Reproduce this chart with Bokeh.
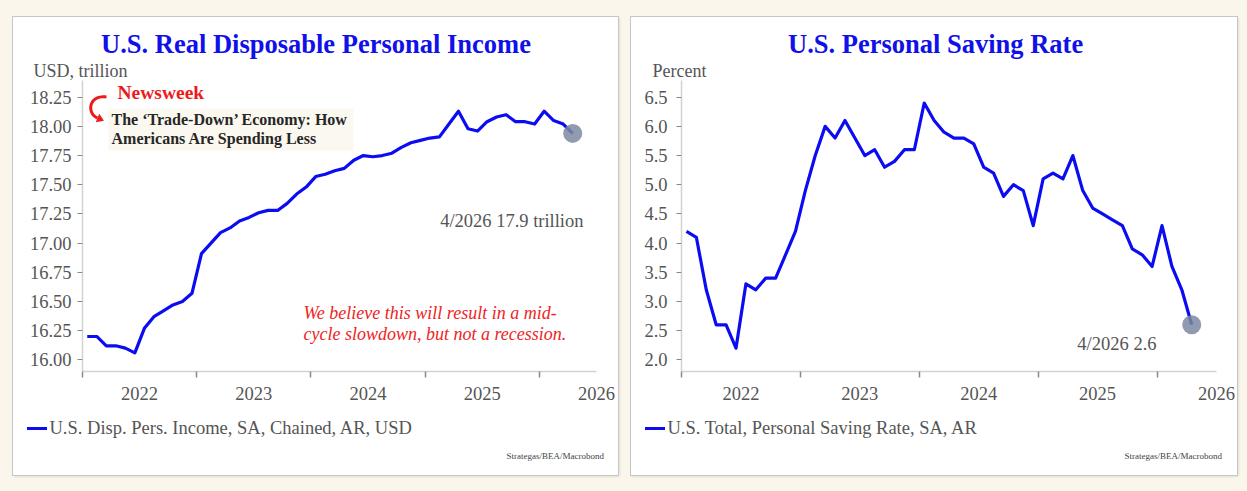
import numpy as np
from bokeh.plotting import figure
from bokeh.layouts import row
from bokeh.models import (FixedTicker, Label, BoxAnnotation, PolyAnnotation, Title,
                          PrintfTickFormatter, GlobalInlineStyleSheet)
from bokeh.embed import file_html
from bokeh.resources import INLINE

# ---------------- data ----------------
start_year = 2022  # first observation: Jan 2022, monthly through Apr 2026
income = [16.20, 16.20, 16.12, 16.12, 16.10, 16.06, 16.27, 16.37, 16.42, 16.47,
          16.50, 16.57, 16.91, 17.00, 17.09, 17.13, 17.19, 17.22, 17.26, 17.28,
          17.28, 17.34, 17.42, 17.48, 17.57, 17.59, 17.62, 17.64, 17.71, 17.75,
          17.74, 17.75, 17.77, 17.82, 17.86, 17.88, 17.90, 17.91, 18.02, 18.13,
          17.98, 17.96, 18.04, 18.08, 18.10, 18.04, 18.04, 18.02, 18.13, 18.05,
          18.02, 17.94]
saving = [4.2, 4.1, 3.2, 2.6, 2.6, 2.2, 3.3, 3.2, 3.4, 3.4,
          3.8, 4.2, 4.9, 5.5, 6.0, 5.8, 6.1, 5.8, 5.5, 5.6,
          5.3, 5.4, 5.6, 5.6, 6.4, 6.1, 5.9, 5.8, 5.8, 5.7,
          5.3, 5.2, 4.8, 5.0, 4.9, 4.3, 5.1, 5.2, 5.1, 5.5,
          4.9, 4.6, 4.5, 4.4, 4.3, 3.9, 3.8, 3.6, 4.3, 3.6,
          3.2, 2.6]
year_ticks = [2022, 2023, 2024, 2025, 2026]
year_labels = ["2022", "2023", "2024", "2025", "2026"]
income_ticks = [16.00, 16.25, 16.50, 16.75, 17.00, 17.25, 17.50, 17.75, 18.00, 18.25]
saving_ticks = [2.0, 2.5, 3.0, 3.5, 4.0, 4.5, 5.0, 5.5, 6.0, 6.5]

# ---------------- style / layout constants ----------------
SERIF = "Liberation Serif"
BLUE = "#0c0cf2"
TITLE_BLUE = "#1010e8"
GREY = "#555555"
RED = "#ee2424"
CREAM = "#faf6eb"

PANEL_TOP = 17            # page y of the panels' top edge
PANEL_H = 458
FRAME_TOP = 63            # frame top, relative to panel (page y 80)
FRAME_BOTTOM_PAGE = 371   # page y of the x axis
FRAME_BOTTOM = PANEL_TOP + PANEL_H - FRAME_BOTTOM_PAGE


def mx(n):
    return [start_year + (i + 0.5) / 12.0 for i in range(n)]


def title(text, offset, size, color, style="normal", valign="bottom", standoff=0):
    return Title(text=text, align="left", offset=offset, standoff=standoff,
                 vertical_align=valign, text_font=SERIF, text_font_size=size,
                 text_color=color, text_font_style=style)


def make_panel(width, frame_left, border_left, border_right, y_range, ticks, fmt, values,
               standoff, title_text, title_x, unit, unit_x, legend_text, legend_x,
               source_x):
    p = figure(width=width, height=PANEL_H, x_range=(2022, 2026.5), y_range=y_range,
               output_backend="svg", toolbar_location=None, title=None,
               min_border_left=border_left, min_border_right=border_right,
               min_border_top=FRAME_TOP, min_border_bottom=FRAME_BOTTOM,
               background_fill_color="white", border_fill_color="white",
               border_fill_alpha=0, outline_line_color=None)
    p.grid.visible = False
    xa = p.xaxis[0]
    xa.ticker = FixedTicker(ticks=[y + 0.5 for y in year_ticks], minor_ticks=year_ticks)
    xa.major_label_overrides = {y + 0.5: lab for y, lab in zip(year_ticks, year_labels)}
    xa.major_tick_line_color = None
    xa.major_tick_out = 6
    xa.major_tick_in = 0
    xa.minor_tick_out = 6
    xa.minor_tick_in = 0
    xa.minor_tick_line_color = "#8a8a8a"
    xa.minor_tick_line_width = 1.5
    xa.axis_line_color = "#d2d2d2"
    xa.axis_line_width = 1.5
    xa.major_label_standoff = 9
    xa.major_label_text_font = SERIF
    xa.major_label_text_font_size = "18.5px"
    xa.major_label_text_color = GREY
    ya = p.yaxis[0]
    ya.ticker = FixedTicker(ticks=ticks)
    ya.formatter = PrintfTickFormatter(format=fmt)
    ya.major_tick_out = 5
    ya.major_tick_in = 0
    ya.minor_tick_line_color = None
    ya.major_tick_line_color = "#8a8a8a"
    ya.major_tick_line_width = 1.2
    ya.axis_line_color = "#d2d2d2"
    ya.axis_line_width = 1.5
    ya.major_label_standoff = standoff
    ya.major_label_text_font = SERIF
    ya.major_label_text_font_size = "18.5px"
    ya.major_label_text_color = GREY

    xs = mx(len(values))
    p.line(xs, values, line_color=BLUE, line_width=3.2, line_join="round")
    p.scatter([xs[-1]], [values[-1]], size=19, fill_color="#7c89a2", fill_alpha=0.85,
              line_color=None)

    # header: unit label (nearest the frame), then the chart title
    p.add_layout(title(unit, unit_x - frame_left, "18px", GREY), "above")
    p.add_layout(title(title_text, title_x - frame_left, "26.5px", TITLE_BLUE, "bold"),
                 "above")
    # footer (after the x axis): legend text, then source
    p.add_layout(title(legend_text, legend_x - frame_left, "18.5px", GREY,
                       valign="bottom", standoff=26), "below")
    p.add_layout(title("Strategas/BEA/Macrobond", source_x - frame_left, "9px",
                       "#444444", valign="top", standoff=0), "below")
    # panel: white card with a thin border; legend swatch painted on the card
    sw_y = 428 - PANEL_TOP - 1.5
    p.styles = {"box-shadow": "0 0 0 1px #c6c6c6, 1px 1px 3px rgba(0,0,0,0.18)",
                "background-color": "#ffffff",
                "background-image": "linear-gradient(%s, %s)" % (BLUE, BLUE),
                "background-size": "20px 3px",
                "background-position": "14px %.1fpx" % sw_y,
                "background-repeat": "no-repeat"}
    return p


def frame_label(p, frame_left, X, Y, text, size="18px", color=GREY, align="left",
                style="normal"):
    """X, Y page pixels -> frame-relative screen units (inside the frame)."""
    p.add_layout(Label(x=X - frame_left, y=FRAME_BOTTOM_PAGE - Y, x_units="screen",
                       y_units="screen", text=text, text_font=SERIF,
                       text_font_size=size, text_color=color, text_align=align,
                       text_baseline="middle", text_font_style=style))


# ---------------- left panel ----------------
L_LEFT = 13
L_FRAME = L_LEFT + 69
p1 = make_panel(605, L_FRAME, 69, 22, (15.90, 18.393), income_ticks, "%.2f", income, 6,
                "U.S. Real Disposable Personal Income", 100.5, "USD, trillion", 33,
                "U.S. Disp. Pers. Income, SA, Chained, AR, USD", 49, 506)
p1.add_layout(BoxAnnotation(left=108 - L_FRAME, right=353 - L_FRAME,
                            top=FRAME_BOTTOM_PAGE - 108, bottom=FRAME_BOTTOM_PAGE - 150,
                            left_units="screen", right_units="screen",
                            top_units="screen", bottom_units="screen",
                            fill_color="#fbf8ef", fill_alpha=1.0, line_color=None))
frame_label(p1, L_FRAME, 117, 91.5, "Newsweek", size="19.5px", color="#ee1a1a",
            style="bold")
frame_label(p1, L_FRAME, 111, 118.5, "The \u2018Trade-Down\u2019 Economy: How",
            size="16px", color="#262626", style="bold")
frame_label(p1, L_FRAME, 111, 137.5, "Americans Are Spending Less", size="16px",
            color="#262626", style="bold")
frame_label(p1, L_FRAME, 583, 220, "4/2026 17.9 trillion", size="18.5px", align="right")
frame_label(p1, L_FRAME, 303, 312, "We believe this will result in a mid-", size="18px",
            color=RED, style="italic")
frame_label(p1, L_FRAME, 303, 333, "cycle slowdown, but not a recession.", size="18px",
            color=RED, style="italic")

# curved red arrow (decoration) in page pixels -> frame screen units
t = np.linspace(0, 1, 30)
P0, P1, P2, P3 = (np.array(v, dtype=float) for v in
                  [(106, 96.5), (88, 94), (86, 113), (97, 117.5)])
curve = ((1 - t)[:, None] ** 3 * P0 + 3 * ((1 - t) ** 2 * t)[:, None] * P1
         + 3 * ((1 - t) * t ** 2)[:, None] * P2 + (t ** 3)[:, None] * P3)
d = np.gradient(curve, axis=0)
nrm = np.stack([-d[:, 1], d[:, 0]], axis=1)
nrm /= np.linalg.norm(nrm, axis=1)[:, None]
band = np.vstack([curve + 1.5 * nrm, (curve - 1.5 * nrm)[::-1]])
p1.add_layout(PolyAnnotation(xs=list(band[:, 0] - L_FRAME),
                             ys=list(FRAME_BOTTOM_PAGE - band[:, 1]),
                             xs_units="screen", ys_units="screen",
                             fill_color="#ee1a1a", fill_alpha=1, line_color=None))
tdir = (P3 - P2) / np.linalg.norm(P3 - P2)
tn = np.array([-tdir[1], tdir[0]])
head = np.array([P3 + 7 * tdir, P3 + 4.5 * tn, P3 - 4.5 * tn])
p1.add_layout(PolyAnnotation(xs=list(head[:, 0] - L_FRAME),
                             ys=list(FRAME_BOTTOM_PAGE - head[:, 1]),
                             xs_units="screen", ys_units="screen",
                             fill_color="#ee1a1a", fill_alpha=1, line_color=None))

# ---------------- right panel ----------------
R_LEFT = 631
R_FRAME = R_LEFT + 50
p2 = make_panel(606, R_FRAME, 50, 21, (1.80, 6.786), saving_ticks, "%.1f", saving, 9,
                "U.S. Personal Saving Rate", 787.5, "Percent", 652,
                "U.S. Total, Personal Saving Rate, SA, AR", 667, 1124)
frame_label(p2, R_FRAME, 1156, 343, "4/2026 2.6", size="18.5px", align="right")

layout = row(p1, p2, spacing=13)
layout.margin = (PANEL_TOP, 10, 16, L_LEFT)
layout.styles = {"background-color": CREAM}
layout.stylesheets = [GlobalInlineStyleSheet(css="html, body { background-color: #faf6eb; }")]

open("out.html", "w").write(file_html(layout, INLINE))
